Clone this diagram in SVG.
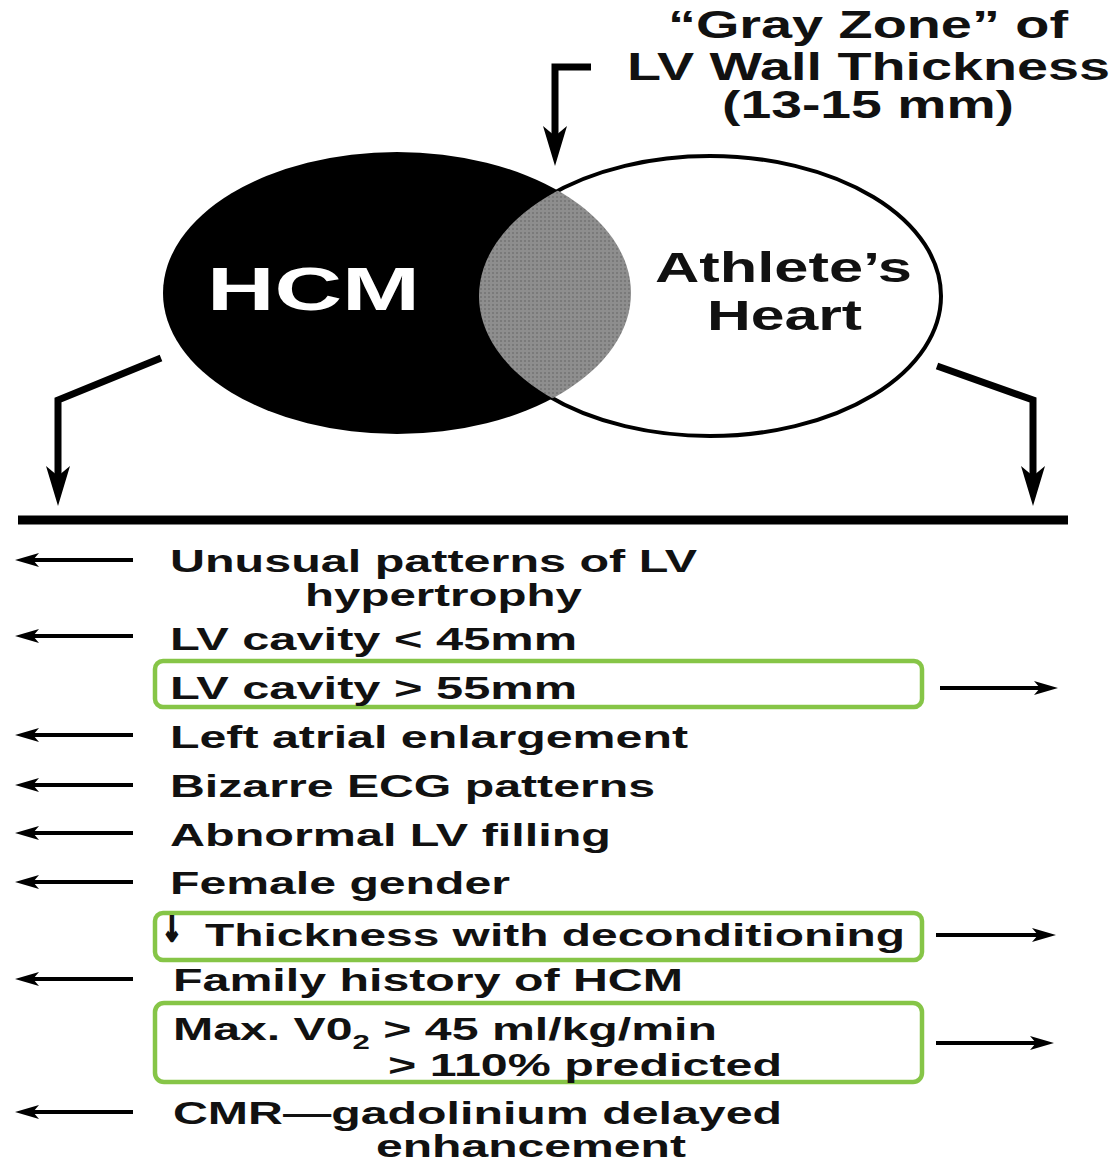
<svg xmlns="http://www.w3.org/2000/svg" width="1117" height="1162" viewBox="0 0 1117 1162">
<style>
.t{font-family:"Liberation Sans",Arial,sans-serif;font-weight:bold;fill:#111;}
.row{font-size:31px;}
.big{font-size:38px;}
.thick{stroke:#000;stroke-width:7;fill:none;stroke-linejoin:miter;}
.thin{stroke:#000;stroke-width:4;fill:none;}
.gbox{fill:none;stroke:#86c547;stroke-width:4.5;}
</style>
<defs>
<marker id="hThick" markerUnits="userSpaceOnUse" viewBox="0 0 40 24" refX="14" refY="12" markerWidth="40" markerHeight="24" orient="auto">
<path d="M0,0 L40,12 L0,24 L10,12 z" fill="#000"/>
</marker>
<marker id="hThin" markerUnits="userSpaceOnUse" viewBox="0 0 24 14" refX="7" refY="7" markerWidth="24" markerHeight="14" orient="auto">
<path d="M0,0 L24,7 L0,14 L6,7 z" fill="#000"/>
</marker>
<clipPath id="hcmClip"><ellipse cx="397" cy="293" rx="234" ry="141"/></clipPath>
<pattern id="dots" width="4" height="4" patternUnits="userSpaceOnUse">
<rect width="4" height="4" fill="#8e8e8e"/>
<rect width="2" height="2" fill="#7a7a7a"/>
</pattern>
</defs>

<g id="title">
<text class="t big" x="668" y="38" textLength="400" lengthAdjust="spacingAndGlyphs">“Gray Zone” of</text>
<text class="t big" x="627" y="80" textLength="483" lengthAdjust="spacingAndGlyphs">LV Wall Thickness</text>
<text class="t big" x="722" y="118" textLength="292" lengthAdjust="spacingAndGlyphs">(13-15 mm)</text>
</g>

<g id="venn">
<g id="hcm">
<ellipse cx="397" cy="293" rx="234" ry="141" fill="#000"/>
</g>
<g id="athlete">
<ellipse cx="710" cy="296" rx="231" ry="140" fill="#fff" stroke="#000" stroke-width="4"/>
</g>
<g id="grayzone">
<ellipse cx="710" cy="296" rx="231" ry="140" fill="url(#dots)" clip-path="url(#hcmClip)"/>
</g>
<text class="t" x="207" y="310" font-size="62" style="fill:#fff" textLength="213" lengthAdjust="spacingAndGlyphs">HCM</text>
<text class="t" x="655" y="282" font-size="42" textLength="257" lengthAdjust="spacingAndGlyphs">Athlete’s</text>
<text class="t" x="707" y="330" font-size="42" textLength="155" lengthAdjust="spacingAndGlyphs">Heart</text>
</g>

<g id="connectors">
<path class="thick" d="M591,67 L555,67 L555,140" marker-end="url(#hThick)"/>
<path class="thick" d="M161,358 L58,400 L58,480" marker-end="url(#hThick)"/>
<path class="thick" d="M937,366 L1033,400 L1033,480" marker-end="url(#hThick)"/>
<line x1="18" y1="520" x2="1068" y2="520" stroke="#000" stroke-width="9"/>
<line class="thin" x1="133" y1="560" x2="32" y2="560" marker-end="url(#hThin)"/>
<line class="thin" x1="133" y1="636" x2="32" y2="636" marker-end="url(#hThin)"/>
<line class="thin" x1="133" y1="735" x2="32" y2="735" marker-end="url(#hThin)"/>
<line class="thin" x1="133" y1="785" x2="32" y2="785" marker-end="url(#hThin)"/>
<line class="thin" x1="133" y1="833" x2="32" y2="833" marker-end="url(#hThin)"/>
<line class="thin" x1="133" y1="882" x2="32" y2="882" marker-end="url(#hThin)"/>
<line class="thin" x1="133" y1="979" x2="32" y2="979" marker-end="url(#hThin)"/>
<line class="thin" x1="133" y1="1112" x2="32" y2="1112" marker-end="url(#hThin)"/>
<line class="thin" x1="940" y1="688" x2="1041" y2="688" marker-end="url(#hThin)"/>
<line class="thin" x1="936" y1="935" x2="1039" y2="935" marker-end="url(#hThin)"/>
<line class="thin" x1="936" y1="1043" x2="1037" y2="1043" marker-end="url(#hThin)"/>
</g>

<g id="row-unusual">
<text class="t row" x="170" y="572" textLength="527" lengthAdjust="spacingAndGlyphs">Unusual patterns of LV</text>
<text class="t row" x="305" y="606" textLength="277" lengthAdjust="spacingAndGlyphs">hypertrophy</text>
</g>
<g id="row-cavity-lt">
<text class="t row" x="170" y="650" textLength="407" lengthAdjust="spacingAndGlyphs">LV cavity &lt; 45mm</text>
</g>
<g id="row-cavity-gt">
<rect class="gbox" x="155" y="661" width="767" height="46" rx="8"/>
<text class="t row" x="170" y="699" textLength="407" lengthAdjust="spacingAndGlyphs">LV cavity &gt; 55mm</text>
</g>
<g id="row-atrial">
<text class="t row" x="170" y="748" textLength="518" lengthAdjust="spacingAndGlyphs">Left atrial enlargement</text>
</g>
<g id="row-ecg">
<text class="t row" x="170" y="797" textLength="485" lengthAdjust="spacingAndGlyphs">Bizarre ECG patterns</text>
</g>
<g id="row-filling">
<text class="t row" x="170" y="846" textLength="441" lengthAdjust="spacingAndGlyphs">Abnormal LV filling</text>
</g>
<g id="row-female">
<text class="t row" x="170" y="894" textLength="340" lengthAdjust="spacingAndGlyphs">Female gender</text>
</g>
<g id="row-thickness">
<rect class="gbox" x="155" y="913" width="767" height="47" rx="8"/>
<text x="162" y="941" font-size="34" font-weight="bold" font-family="DejaVu Sans, sans-serif" fill="#111" stroke="#111" stroke-width="2.2" textLength="20" lengthAdjust="spacingAndGlyphs">↓</text>
<text class="t row" x="205" y="946" textLength="700" lengthAdjust="spacingAndGlyphs">Thickness with deconditioning</text>
</g>
<g id="row-family">
<text class="t row" x="173" y="991" textLength="510" lengthAdjust="spacingAndGlyphs">Family history of HCM</text>
</g>
<g id="row-vo2">
<rect class="gbox" x="155" y="1003" width="767" height="79" rx="9"/>
<text class="t row" x="173" y="1040" textLength="544" lengthAdjust="spacingAndGlyphs">Max. V0<tspan font-size="20" dy="9">2</tspan><tspan dy="-9"> &gt; 45 ml/kg/min</tspan></text>
<text class="t row" x="388" y="1076" textLength="394" lengthAdjust="spacingAndGlyphs">&gt; 110% predicted</text>
</g>
<g id="row-cmr">
<text class="t row" x="173" y="1124" textLength="609" lengthAdjust="spacingAndGlyphs">CMR—gadolinium delayed</text>
<text class="t row" x="376" y="1157" textLength="310" lengthAdjust="spacingAndGlyphs">enhancement</text>
</g>
</svg>
